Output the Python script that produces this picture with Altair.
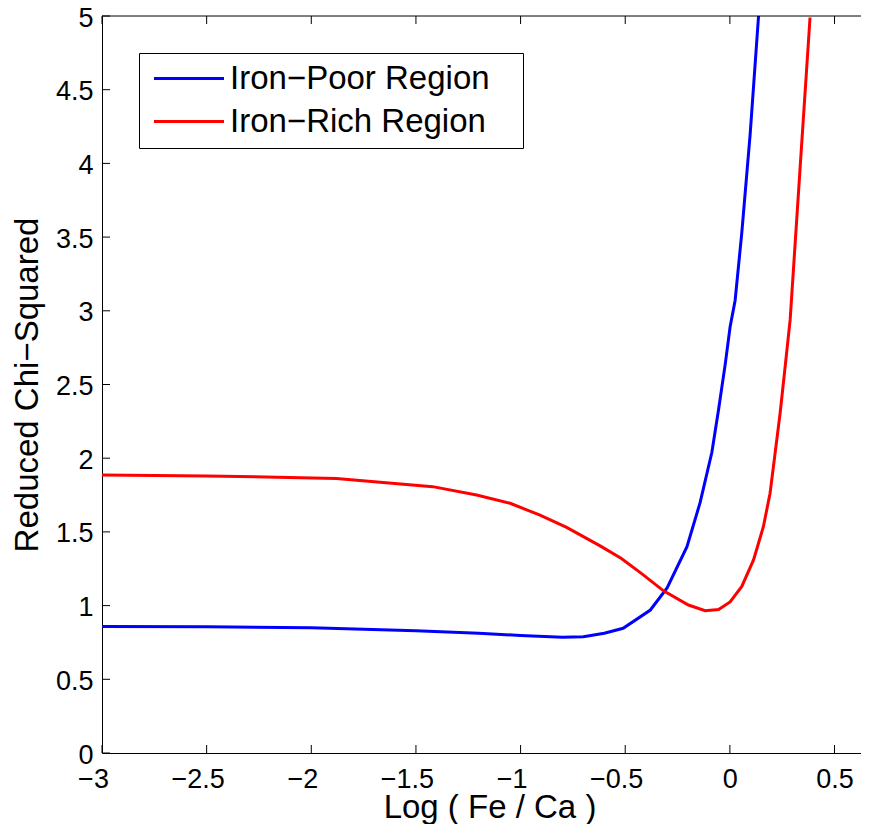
import altair as alt
import pandas as pd

# ---- data ----
series_names = ["Iron−Poor Region", "Iron−Rich Region"]
series_colors = ["#0000ff", "#ff0000"]

poor_x = [-3.0, -2.5, -2.0, -1.5, -1.2, -1.0, -0.8, -0.7, -0.6, -0.51, -0.38, -0.30,
          -0.205, -0.142, -0.086, -0.054, -0.022, 0.001, 0.025, 0.057, 0.097, 0.137]
poor_y = [0.858, 0.856, 0.849, 0.830, 0.812, 0.797, 0.786, 0.789, 0.812, 0.846, 0.97, 1.12,
          1.40, 1.70, 2.04, 2.33, 2.64, 2.89, 3.07, 3.53, 4.20, 5.0]

rich_x = [-3.0, -2.5, -2.05, -1.88, -1.42, -1.21, -1.05, -0.91, -0.78, -0.62, -0.52, -0.42,
          -0.317, -0.198, -0.118, -0.054, 0.001, 0.057, 0.113, 0.16, 0.192, 0.216, 0.24,
          0.264, 0.288, 0.336, 0.383]
rich_y = [1.886, 1.880, 1.868, 1.862, 1.807, 1.750, 1.694, 1.615, 1.531, 1.405, 1.321, 1.215,
          1.10, 1.004, 0.965, 0.973, 1.025, 1.13, 1.31, 1.535, 1.762, 2.033, 2.305,
          2.62, 2.94, 3.98, 4.99]

x_ticks = [-3, -2.5, -2, -1.5, -1, -0.5, 0, 0.5]
y_ticks = [0, 0.5, 1, 1.5, 2, 2.5, 3, 3.5, 4, 4.5, 5]

x_title = "Log ( Fe / Ca )"
y_title = "Reduced Chi−Squared"

# ---- tables ----
df = pd.concat([
    pd.DataFrame({"x": poor_x, "y": poor_y, "series": series_names[0]}),
    pd.DataFrame({"x": rich_x, "y": rich_y, "series": series_names[1]}),
], ignore_index=True)
xt_df = pd.DataFrame({"x": x_ticks})
yt_df = pd.DataFrame({"y": y_ticks})
one_row = pd.DataFrame({"k": [0]})

W, H = 759, 737
TICK = 8
FONT = "Liberation Sans"

xs = alt.Scale(domain=[-3, 0.6265], nice=False, zero=False)
ys = alt.Scale(domain=[0, 5], nice=False, zero=False)

x_axis = alt.Axis(
    values=x_ticks, format=".1~f", title=x_title,
    labelOffset={"condition": {"test": "datum.value < 0", "value": -9}, "value": 0},
    labelPadding=13, labelFlush=False, labelOverlap=False,
    titleX=387.5, titleY=64, titleAlign="center", titleBaseline="alphabetic",
)
y_axis = alt.Axis(
    values=y_ticks, format=".1~f", title=y_title,
    labelAlign="right", labelBaseline="middle", labelPadding=9, labelOffset=2,
    labelFlush=False, labelOverlap=False,
    titleX=-65, titleY=H / 2, titleAngle=270, titleAlign="center",
    titleBaseline="alphabetic",
)

lines = alt.Chart(df).mark_line(strokeWidth=3, clip=True).encode(
    x=alt.X("x:Q", scale=xs, axis=x_axis),
    y=alt.Y("y:Q", scale=ys, axis=y_axis),
    color=alt.Color("series:N",
                    scale=alt.Scale(domain=series_names, range=series_colors),
                    legend=alt.Legend(
                        title=".", titleOrient="right", titleColor="transparent",
                        titleFont=FONT, titleFontSize=33, titlePadding=14,
                        orient="top-left", offset=37,
                        symbolType="M-0.75,0H4.25", symbolSize=784,
                        symbolStrokeWidth=3, labelOffset=49,
                        labelFont=FONT, labelFontSize=33, labelColor="black",
                        padding=9, rowPadding=9,
                        strokeColor="black", fillColor="white",
                        labelLimit=0,
                    )),
    order="x:Q",
)

x_ticks_bottom = alt.Chart(xt_df).mark_rule(color="black", strokeWidth=1).encode(
    x=alt.X("x:Q", scale=xs, axis=x_axis), y=alt.value(H), y2=alt.value(H - TICK))
x_ticks_top = alt.Chart(xt_df).mark_rule(color="black", strokeWidth=1).encode(
    x=alt.X("x:Q", scale=xs, axis=x_axis), y=alt.value(0), y2=alt.value(TICK))
y_ticks_left = alt.Chart(yt_df).mark_rule(color="black", strokeWidth=1).encode(
    y=alt.Y("y:Q", scale=ys, axis=y_axis), x=alt.value(0), x2=alt.value(TICK))
top_border = alt.Chart(one_row).mark_rule(color="black", strokeWidth=1).encode(
    x=alt.value(0), x2=alt.value(W), y=alt.value(0))

chart = alt.layer(
    lines, x_ticks_bottom, x_ticks_top, y_ticks_left, top_border
).properties(
    width=W, height=H,
    background="white",
    autosize=alt.AutoSizeParams(type="none"),
    padding={"left": 94, "top": 8, "right": 0, "bottom": 71},
).configure_view(
    stroke=None
).configure_axis(
    grid=False, ticks=False, domain=True,
    domainColor="black", domainWidth=1,
    labelFont=FONT, labelFontSize=27, labelColor="black",
    titleFont=FONT, titleFontSize=33, titleFontWeight="normal", titleColor="black",
)

chart.save("out.html", embed_options={"renderer": "svg", "actions": False})
